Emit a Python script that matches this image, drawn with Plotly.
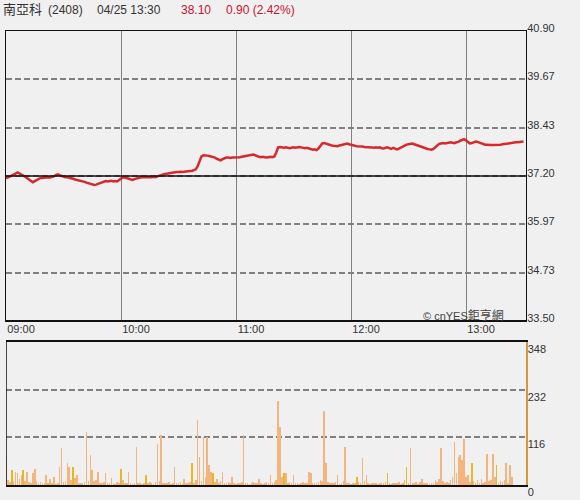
import plotly.graph_objects as go

# ---------------- data ----------------
stock_name = "南亞科"
stock_code = "(2408)"
stamp = "04/25 13:30"
last_price = "38.10"
change_text = "0.90 (2.42%)"
prev_close = 37.20

time_ticks = [0, 60, 120, 180, 240]
time_labels = ["09:00", "10:00", "11:00", "12:00", "13:00"]
price_ticks = [33.50, 34.73, 35.97, 37.20, 38.43, 39.67, 40.90]
volume_ticks = [0, 116, 232, 348]

price = [
    37.14, 37.16, 37.18, 37.20, 37.23, 37.26, 37.29, 37.27, 37.24, 37.21,
    37.18, 37.14, 37.10, 37.06, 37.04, 37.07, 37.10, 37.13, 37.15, 37.15,
    37.16, 37.16, 37.17, 37.16, 37.17, 37.19, 37.22, 37.24, 37.22, 37.20,
    37.18, 37.17, 37.17, 37.16, 37.15, 37.13, 37.11, 37.10, 37.09, 37.08,
    37.07, 37.05, 37.03, 37.01, 36.99, 36.98, 36.97, 36.98, 37.00, 37.02,
    37.04, 37.05, 37.07, 37.06, 37.07, 37.08, 37.06, 37.07, 37.06, 37.10,
    37.14, 37.17, 37.16, 37.14, 37.12, 37.10, 37.10, 37.12, 37.14, 37.15,
    37.16, 37.17, 37.17, 37.16, 37.17, 37.17, 37.17, 37.18, 37.17, 37.19,
    37.21, 37.24, 37.24, 37.25, 37.26, 37.27, 37.28, 37.29, 37.29, 37.30,
    37.30, 37.31, 37.30, 37.31, 37.31, 37.32, 37.33, 37.33, 37.35, 37.37,
    37.45, 37.60, 37.70, 37.73, 37.73, 37.72, 37.71, 37.70, 37.69, 37.67,
    37.64, 37.62, 37.60, 37.63, 37.66, 37.67, 37.67, 37.66, 37.67, 37.67,
    37.67, 37.68, 37.68, 37.69, 37.70, 37.70, 37.71, 37.73, 37.74, 37.75,
    37.73, 37.70, 37.69, 37.68, 37.69, 37.68, 37.67, 37.68, 37.69, 37.68,
    37.70, 37.80, 37.93, 37.94, 37.93, 37.92, 37.93, 37.92, 37.91, 37.92,
    37.93, 37.92, 37.93, 37.94, 37.93, 37.92, 37.91, 37.92, 37.90, 37.88,
    37.87, 37.88, 37.86, 37.90, 37.98, 38.03, 38.04, 38.02, 38.00, 37.99,
    37.98, 37.97, 37.97, 37.96, 37.98, 37.99, 38.00, 38.02, 38.03, 38.01,
    37.99, 37.98, 37.97, 37.96, 37.96, 37.95, 37.95, 37.94, 37.94, 37.93,
    37.93, 37.93, 37.92, 37.93, 37.92, 37.93, 37.91, 37.90, 37.92, 37.93,
    37.91, 37.89, 37.92, 37.90, 37.88, 37.90, 37.93, 37.96, 37.98, 38.00,
    38.01, 38.02, 38.03, 38.01, 37.99, 37.97, 37.95, 37.93, 37.91, 37.90,
    37.89, 37.88, 37.87, 37.89, 37.93, 37.98, 38.02, 38.03, 38.04, 38.03,
    38.04, 38.05, 38.06, 38.05, 38.04, 38.06, 38.07, 38.10, 38.13, 38.14,
    38.11, 38.06, 38.03, 38.04, 38.06, 38.08, 38.07, 38.05, 38.03, 38.01,
    38.00, 38.00, 37.99, 37.99, 37.99, 37.99, 38.00, 38.00, 38.00, 38.01,
    38.01, 38.02, 38.03, 38.04, 38.05, 38.05, 38.06, 38.06, 38.07, 38.07,
    38.08,
]

volume = [
    68, 12, 8, 36, 10, 32, 29, 14, 25, 36,
    9, 32, 8, 6, 29, 38, 10, 5, 7, 4,
    6, 25, 5, 15, 4, 20, 3, 6, 44, 89,
    8, 10, 53, 44, 12, 44, 18, 25, 6, 4,
    5, 8, 129, 10, 72, 36, 9, 12, 32, 6,
    5, 7, 29, 4, 6, 18, 5, 3, 8, 6,
    38, 12, 5, 4, 32, 6, 3, 5, 93, 4,
    5, 3, 6, 25, 4, 7, 5, 3, 8, 101,
    10, 121, 6, 4, 5, 8, 3, 6, 44, 5,
    4, 7, 3, 15, 6, 4, 8, 53, 5, 12,
    159, 68, 10, 117, 20, 117, 48, 32, 29, 8,
    15, 6, 10, 32, 5, 4, 7, 6, 20, 5,
    3, 6, 4, 8, 121, 5, 6, 3, 4, 7,
    5, 4, 15, 6, 3, 5, 7, 4, 25, 6,
    8, 12, 205, 141, 20, 29, 29, 6, 8, 5,
    25, 4, 6, 3, 5, 7, 4, 6, 32, 29,
    5, 6, 4, 8, 12, 10, 179, 53, 8, 6,
    4, 5, 7, 25, 3, 6, 10, 93, 5, 4,
    3, 6, 4, 20, 8, 5, 65, 10, 25, 4,
    3, 5, 6, 4, 3, 5, 4, 6, 8, 29,
    4, 3, 5, 6, 4, 8, 3, 5, 12, 44,
    6, 90, 5, 4, 7, 3, 8, 15, 5, 6,
    4, 3, 6, 5, 12, 8, 15, 89, 10, 6,
    8, 5, 12, 20, 105, 30, 68, 72, 60, 113,
    20, 25, 8, 53, 10, 6, 12, 5, 15, 6,
    8, 75, 10, 12, 75, 20, 48, 6, 10, 8,
    12, 53, 6, 48, 20, 0, 0, 0, 0, 0,
    0,
]

# minutes whose volume bar is drawn in the second (yellow) colour
yellow_minutes = [3, 9, 22, 35, 60, 73, 97, 108, 145, 183, 199, 209, 243, 256]

minutes = list(range(len(price)))

# ---------------- styling ----------------
FONT = "Liberation Sans, Arial, Noto Sans CJK TC, sans-serif"
BG = "#F0F0F0"
RED = "#D42A2E"
GRID = "#808080"
ORANGE = "#F4B47E"
YELLOW = "#E8B820"
X_RANGE = [0, 520 * 60 / 115]

bar_colors = [YELLOW if m in yellow_minutes else ORANGE for m in minutes]

fig = go.Figure()

fig.add_trace(go.Scatter(
    x=minutes, y=price, mode="lines",
    line=dict(color=RED, width=2.5),
    xaxis="x", yaxis="y", hoverinfo="skip", showlegend=False,
))

fig.add_trace(go.Bar(
    x=minutes, y=volume, width=0.8,
    marker=dict(color=bar_colors, line=dict(width=0)),
    xaxis="x2", yaxis="y2", hoverinfo="skip", showlegend=False,
))

fig.update_layout(
    width=580, height=500,
    margin=dict(l=6, r=54, t=31, b=15, autoexpand=False),
    paper_bgcolor=BG, plot_bgcolor=BG,
    font=dict(family=FONT, size=11, color="#333333"),
    xaxis=dict(
        domain=[0, 1], anchor="y", range=X_RANGE,
        tickvals=time_ticks, ticktext=time_labels,
        showgrid=True, gridcolor=GRID, gridwidth=1,
        showline=True, linecolor="#111111", linewidth=1, mirror=True,
        ticks="", ticklabelshift=15, ticklabelstandoff=-2,
        tickfont=dict(size=11, color="#333333"),
        zeroline=False, fixedrange=True, automargin=False,
    ),
    yaxis=dict(
        domain=[164 / 454, 1], anchor="x", range=[price_ticks[0], price_ticks[-1]],
        side="right", tickvals=price_ticks,
        ticktext=["%.2f" % v for v in price_ticks],
        showgrid=True, gridcolor=GRID, gridwidth=2, griddash="6px,3px",
        showline=True, linecolor="#111111", linewidth=1, mirror=True,
        ticks="", ticklabelshift=-3, ticklabelstandoff=-2,
        tickfont=dict(size=11, color="#333333"),
        zeroline=False, fixedrange=True, automargin=False,
    ),
    xaxis2=dict(
        domain=[0, 1], anchor="y2", range=X_RANGE,
        showticklabels=False, showgrid=False, ticks="",
        showline=True, linecolor="#111111", linewidth=2, mirror=True,
        zeroline=False, fixedrange=True, automargin=False,
    ),
    yaxis2=dict(
        domain=[0, 143 / 454], anchor="x2", range=[volume_ticks[0], volume_ticks[-1]],
        side="right", tickvals=volume_ticks,
        ticktext=[str(v) for v in volume_ticks],
        showgrid=True, gridcolor=GRID, gridwidth=2, griddash="6px,3px",
        showline=True, linecolor="#D8963A", linewidth=1.5,
        ticks="", ticklabelshift=7, ticklabelstandoff=-2,
        tickfont=dict(size=11, color="#333333"),
        zeroline=False, fixedrange=True, automargin=False,
    ),
    bargap=0,
)

# previous close reference line and panel borders
fig.add_shape(type="line", xref="x", yref="y", x0=X_RANGE[0], x1=X_RANGE[1],
              y0=prev_close, y1=prev_close, line=dict(color="#111111", width=1.5))
fig.add_shape(type="line", xref="x", yref="y", x0=X_RANGE[0], x1=X_RANGE[1],
              y0=price_ticks[0], y1=price_ticks[0], line=dict(color="#111111", width=2))
fig.add_shape(type="line", xref="x2", yref="y2", x0=X_RANGE[0], x1=X_RANGE[0],
              y0=volume_ticks[0], y1=volume_ticks[-1], line=dict(color="#111111", width=1.5))

# header
def hdr(text, px, color, size):
    fig.add_annotation(
        text=text, xref="paper", yref="paper",
        x=(px - 6) / 520, y=(485 - 10) / 454,
        xanchor="left", yanchor="middle", showarrow=False,
        font=dict(family=FONT, size=size, color=color), borderpad=0,
    )

hdr(stock_name, 2, "#333333", 13)
hdr(stock_code, 47, "#333333", 12)
hdr(stamp, 96, "#333333", 12)
hdr(last_price, 180, "#C8102E", 12)
hdr(change_text, 225, "#C8102E", 12)

# watermark
fig.add_annotation(
    text='© cnYES<span style="font-size:12px">鉅亨網</span>',
    xref="paper", yref="paper", x=(505 - 6) / 520, y=(485 - 315) / 454,
    xanchor="right", yanchor="middle", showarrow=False, borderpad=0,
    font=dict(family=FONT, size=11, color="#444444"),
)

fig.write_html(
    "out.html",
    config={"displayModeBar": False, "staticPlot": True},
    post_script="document.body.style.margin='0';document.body.style.overflow='hidden';",
)
